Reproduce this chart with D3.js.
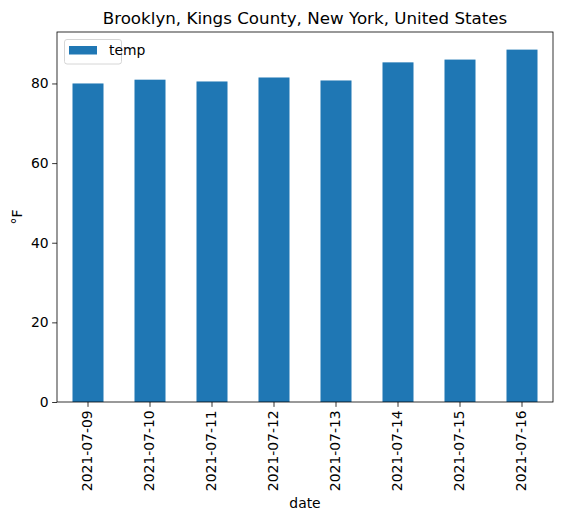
<!DOCTYPE html>
<html><head><meta charset="utf-8">
<script src="https://cdn.jsdelivr.net/npm/d3@7"></script>
<style>body{margin:0;background:#fff}svg{font-family:"DejaVu Sans",sans-serif}</style>
</head><body><svg id="c" width="562" height="521"></svg>
<script>
const dates = ["2021-07-09","2021-07-10","2021-07-11","2021-07-12","2021-07-13","2021-07-14","2021-07-15","2021-07-16"];
const temps = [80.0, 80.95, 80.5, 81.5, 80.75, 85.3, 86.0, 88.5];
const yTicks = [0, 20, 40, 60, 80];
const title = "Brooklyn, Kings County, New York, United States";
const seriesName = "temp";

const svg = d3.select("#c");
const L = 57, R = 553, T = 32, B = 402;
const x = d3.scaleBand().domain(dates).range([L, R]).paddingInner(0.5).paddingOuter(0.25);
const y = d3.scaleLinear().domain([0, d3.max(temps) * 1.05]).range([B, T]);
const color = "#1f77b4";

svg.append("g").selectAll("rect").data(dates).join("rect")
  .attr("x", d => x(d)).attr("width", x.bandwidth())
  .attr("y", (d, i) => y(temps[i])).attr("height", (d, i) => B - y(temps[i]))
  .attr("fill", color);

const yAxis = svg.append("g").attr("transform", `translate(${L},0)`)
  .call(d3.axisLeft(y).tickValues(yTicks).tickSize(4.86).tickPadding(3.5));
const xAxis = svg.append("g").attr("transform", `translate(0,${B})`)
  .call(d3.axisBottom(x).tickSize(4.86).tickPadding(3.5));
[yAxis, xAxis].forEach(g => {
  g.select(".domain").remove();
  g.selectAll("line").attr("stroke", "#000").attr("stroke-width", 0.8);
  g.selectAll("text").attr("font-size", "13.9px").attr("fill", "#000").attr("font-family", "DejaVu Sans");
});
xAxis.selectAll("text")
  .attr("transform", "rotate(-90)")
  .attr("text-anchor", "end").attr("dy", "0.32em").attr("y", 0).attr("x", -8.4);

svg.append("rect").attr("x", L).attr("y", T).attr("width", R - L).attr("height", B - T)
  .attr("fill", "none").attr("stroke", "#000").attr("stroke-width", 0.8);

svg.append("text").attr("x", (L + R) / 2).attr("y", 24).attr("text-anchor", "middle")
  .attr("font-size", "16.7px").text(title);
svg.append("text").attr("x", (L + R) / 2).attr("y", 508).attr("text-anchor", "middle")
  .attr("font-size", "13.9px").text("date");
svg.append("text").attr("transform", `translate(22,${(T + B) / 2}) rotate(-90)`).attr("text-anchor", "middle")
  .attr("font-size", "13.9px").text("°F");

const lg = svg.append("g");
lg.append("rect").attr("x", 64.5).attr("y", 39.5).attr("width", 57).attr("height", 24.5).attr("rx", 2.5)
  .attr("fill", "#fff").attr("fill-opacity", 0.8).attr("stroke", "#ccc").attr("stroke-width", 0.8);
lg.append("rect").attr("x", 69).attr("y", 46).attr("width", 28).attr("height", 8.5).attr("fill", color);
lg.append("text").attr("x", 109).attr("y", 55).attr("font-size", "13.9px").text(seriesName);
</script></body></html>
